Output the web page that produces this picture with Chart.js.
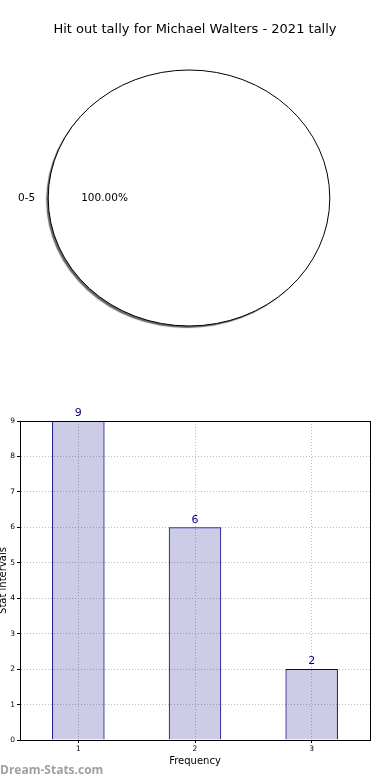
<!DOCTYPE html>
<html>
<head>
<meta charset="utf-8">
<script src="https://cdn.jsdelivr.net/npm/chart.js@4/dist/chart.umd.min.js"></script>
<style>
  body { margin: 0; background: #fff; width: 390px; height: 780px; position: relative; overflow: hidden; }
  #pieChart { position: absolute; left: 0; top: 0; }
  #barChart { position: absolute; left: 0; top: 380px; }
  #mark { position: absolute; left: 0; top: 761px; font: bold 12px "Open Sans", sans-serif; color: #a0a0a0; }
</style>
</head>
<body>
<canvas id="pieChart" width="390" height="360"></canvas>
<canvas id="barChart" width="390" height="400"></canvas>
<div id="mark">Dream-Stats.com</div>
<script>
// pie data
const pieTitle = "Hit out tally for Michael Walters - 2021 tally";
const pieLabels = ["0-5"];
const pieValues = [100];

// bar data
const barCategories = ["1", "2", "3"];
const barValues = [9, 6, 2];
const barTitleX = "Frequency";
const barTitleY = "Stat intervals";

const FONT = "'DejaVu Sans', sans-serif";
const STRETCH = 1.1; // the reference pie is drawn as an ellipse

// stretch the pie horizontally, shadow under it, outline, labels and title
const ellipsePlugin = {
  id: "ellipse",
  beforeDatasetsDraw(chart) {
    const arc = chart.getDatasetMeta(0).data[0];
    const ctx = chart.ctx;
    ctx.save();
    ctx.shadowColor = "rgba(0,0,0,0.6)";
    ctx.shadowOffsetX = -2;
    ctx.shadowOffsetY = 2;
    ctx.shadowBlur = 1;
    ctx.translate(arc.x, arc.y);
    ctx.scale(STRETCH, 1);
    ctx.translate(-arc.x, -arc.y);
  },
  afterDatasetsDraw(chart) {
    const ctx = chart.ctx;
    ctx.restore();
    // outline of the slice (the library border would add a radial line on a full circle)
    chart.getDatasetMeta(0).data.forEach(arc => {
      ctx.save();
      ctx.strokeStyle = "#000";
      ctx.lineWidth = 1;
      ctx.beginPath();
      ctx.ellipse(arc.x, arc.y, arc.outerRadius * STRETCH, arc.outerRadius, 0, arc.startAngle, arc.endAngle);
      ctx.stroke();
      ctx.restore();
    });
  },
  afterDraw(chart) {
    const ctx = chart.ctx;
    const total = pieValues.reduce((a, b) => a + b, 0);
    ctx.save();
    ctx.fillStyle = "#000";
    ctx.font = "13px " + FONT;
    ctx.textAlign = "center";
    ctx.textBaseline = "middle";
    ctx.fillText(pieTitle, chart.width / 2, 30);
    chart.getDatasetMeta(0).data.forEach((arc, i) => {
      const mid = (arc.startAngle + arc.endAngle) / 2;
      const r = arc.outerRadius;
      const cx = Math.cos(mid), cy = Math.sin(mid);
      ctx.font = "10.5px " + FONT;
      ctx.textAlign = cx < 0 ? "right" : "left";
      ctx.fillText(pieLabels[i], arc.x + cx * r * 1.1 * STRETCH + 1, arc.y + cy * r * 1.1);
      ctx.textAlign = "center";
      ctx.fillText((pieValues[i] / total * 100).toFixed(2) + "%", arc.x + cx * r * 0.6 * STRETCH, arc.y + cy * r * 0.6);
    });
    ctx.restore();
  }
};

new Chart(document.getElementById("pieChart"), {
  type: "pie",
  data: {
    labels: pieLabels,
    datasets: [{
      data: pieValues,
      backgroundColor: "#ffffff",
      borderWidth: 0
    }]
  },
  options: {
    responsive: false,
    animation: false,
    rotation: 90,
    layout: { padding: { top: 70, left: 0, right: 12, bottom: 34 } },
    plugins: {
      legend: { display: false },
      tooltip: { enabled: false },
      title: { display: false }
    }
  },
  plugins: [ellipsePlugin]
});

// frame around plot area and value labels above the bars
const barExtras = {
  id: "barExtras",
  afterDraw(chart) {
    const ctx = chart.ctx;
    const a = chart.chartArea;
    ctx.save();
    ctx.setLineDash([]);
    ctx.strokeStyle = "#000";
    ctx.lineWidth = 1;
    ctx.strokeRect(Math.round(a.left) + 0.5, Math.round(a.top) + 0.5, Math.round(a.right - a.left), Math.round(a.bottom - a.top));
    ctx.fillStyle = "#000080";
    ctx.font = "11px " + FONT;
    ctx.textAlign = "center";
    ctx.textBaseline = "bottom";
    chart.getDatasetMeta(0).data.forEach((bar, i) => {
      ctx.fillText(String(barValues[i]), bar.x, bar.y - 2);
    });
    ctx.restore();
  }
};

const gridStyle = {
  color: "#bdbdbd",
  tickColor: "#000",
  tickBorderDash: [],
  tickLength: 3,
  offset: false
};

new Chart(document.getElementById("barChart"), {
  type: "bar",
  data: {
    labels: barCategories,
    datasets: [{
      data: barValues,
      backgroundColor: "rgba(0,0,128,0.2)",
      borderColor: "#000080",
      borderWidth: 1,
      categoryPercentage: 1,
      barPercentage: 0.45
    }]
  },
  options: {
    responsive: false,
    animation: false,
    layout: { padding: { top: 41, right: 20, left: 0, bottom: 13 } },
    plugins: { legend: { display: false }, tooltip: { enabled: false } },
    scales: {
      x: {
        grid: gridStyle,
        border: { color: "#000", dash: [1, 2] },
        ticks: { color: "#000", font: { family: FONT, size: 7.5 }, padding: 2 },
        title: { display: true, text: barTitleX, color: "#000", font: { family: FONT, size: 10 }, padding: { top: 0, bottom: 0 } },
        afterFit: s => { s.height = 27; }
      },
      y: {
        min: 0,
        max: 9,
        grid: gridStyle,
        border: { color: "#000", dash: [1, 2] },
        ticks: { stepSize: 1, color: "#000", font: { family: FONT, size: 7.5 }, padding: 2 },
        title: { display: true, text: barTitleY, color: "#000", font: { family: FONT, size: 10, lineHeight: 1 }, padding: { top: -2, bottom: 0 } },
        afterFit: s => { s.width = 20; }
      }
    }
  },
  plugins: [barExtras]
});
</script>
</body>
</html>
